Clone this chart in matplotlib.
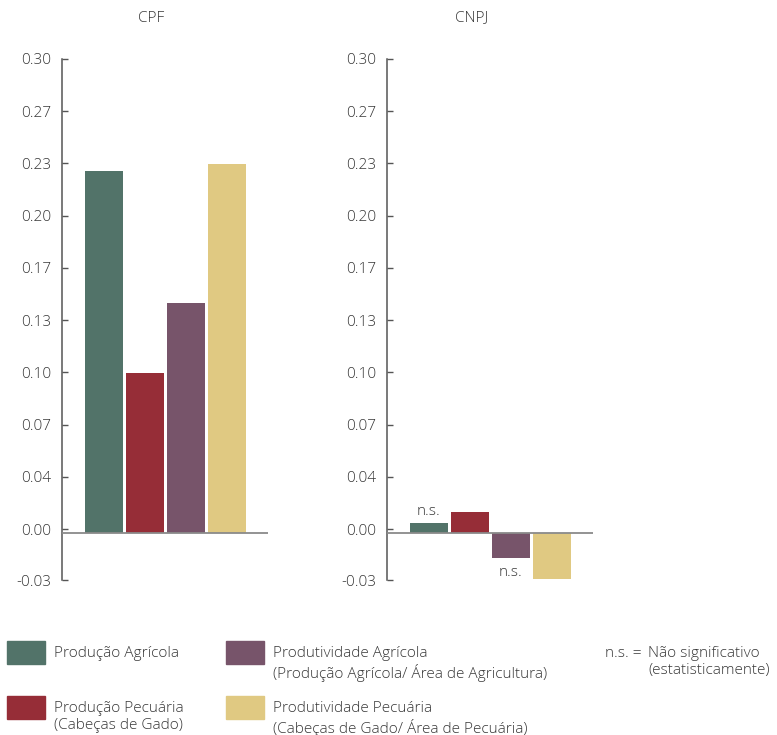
import numpy as np
import matplotlib
matplotlib.use('Agg')
import matplotlib.pyplot as plt
from matplotlib.patches import Rectangle

plt.rcParams['font.family'] = ['Open Sans', 'DejaVu Sans']
plt.rcParams['font.weight'] = 'light'

# dados
cpf_vals = [0.229, 0.101, 0.1456, 0.2335]
cnpj_vals = [0.0065, 0.0133, -0.0156, -0.029]
cnpj_ns = [True, False, True, False]
panels = ['CPF', 'CNPJ']
tick_labels = ['-0.03', '0.00', '0.04', '0.07', '0.10', '0.13',
               '0.17', '0.20', '0.23', '0.27', '0.30']
legend_labels = ['Produção Agrícola', 'Produção Pecuária\n(Cabeças de Gado)',
                 'Produtividade Agrícola\n(Produção Agrícola/ Área de Agricultura)',
                 'Produtividade Pecuária\n(Cabeças de Gado/ Área de Pecuária)']
colors = ['#527369', '#962d37', '#77546a', '#e0c982']

txt = '#383838'
fs = 11.1
W, H = 777, 735
fig = plt.figure(figsize=(W / 100, H / 100), dpi=100)

ymin, ymax = -0.0297, 0.30
tick_pos = [ymin] + list(np.linspace(0.0025, 0.30, 10))

for i, (name, vals) in enumerate(zip(panels, [cpf_vals, cnpj_vals])):
    left = [62, 387][i]
    ax = fig.add_axes([left / W, 1 - 580 / H, 206 / W, 521 / H])
    x = np.arange(len(vals))
    ax.bar(x, vals, width=0.927, color=colors, zorder=2)
    ax.set_xlim(-1.02, 4.0)
    ax.set_ylim(ymin, ymax)
    ax.axhline(0, color='#8a8a8a', lw=1.3, zorder=3)
    for s in ['top', 'right', 'bottom']:
        ax.spines[s].set_visible(False)
    ax.spines['left'].set_color('#555555')
    ax.spines['left'].set_linewidth(1.1)
    ax.set_xticks([])
    ax.set_yticks(tick_pos)
    ax.set_yticklabels(tick_labels)
    ax.tick_params(axis='y', direction='in', length=4, width=1, color='#555555',
                   labelsize=fs, labelcolor=txt, pad=8)
    fig.text([151, 472][i] / W, 1 - 18 / H, name, ha='center', va='center',
             fontsize=fs, color=txt)
    if name == 'CNPJ':
        for xi, v, ns in zip(x, vals, cnpj_ns):
            if ns:
                if v >= 0:
                    ax.annotate('n.s.', (xi, v), xytext=(0, 3), textcoords='offset points',
                                ha='center', va='bottom', fontsize=fs, color=txt)
                else:
                    ax.annotate('n.s.', (xi, v), xytext=(0, -5), textcoords='offset points',
                                ha='center', va='top', fontsize=fs, color=txt)

# legenda
pos = [(7, 641), (7, 696), (226, 641), (226, 696)]
for (px, py), lab, c in zip(pos, legend_labels, colors):
    fig.patches.append(Rectangle((px / W, 1 - (py + 23) / H), 38 / W, 23 / H,
                                 transform=fig.transFigure, color=c))
    fig.text((px + 47) / W, 1 - (py + 5) / H, lab, ha='left', va='top',
             fontsize=fs, color=txt, linespacing=1.18)

fig.text(605 / W, 1 - 646 / H, 'n.s. =', ha='left', va='top', fontsize=fs, color=txt)
fig.text(648 / W, 1 - 646 / H, 'Não significativo\n(estatisticamente)', ha='left', va='top',
         fontsize=fs, color=txt, linespacing=1.18)

fig.savefig('out.png', dpi=100, facecolor='white')
